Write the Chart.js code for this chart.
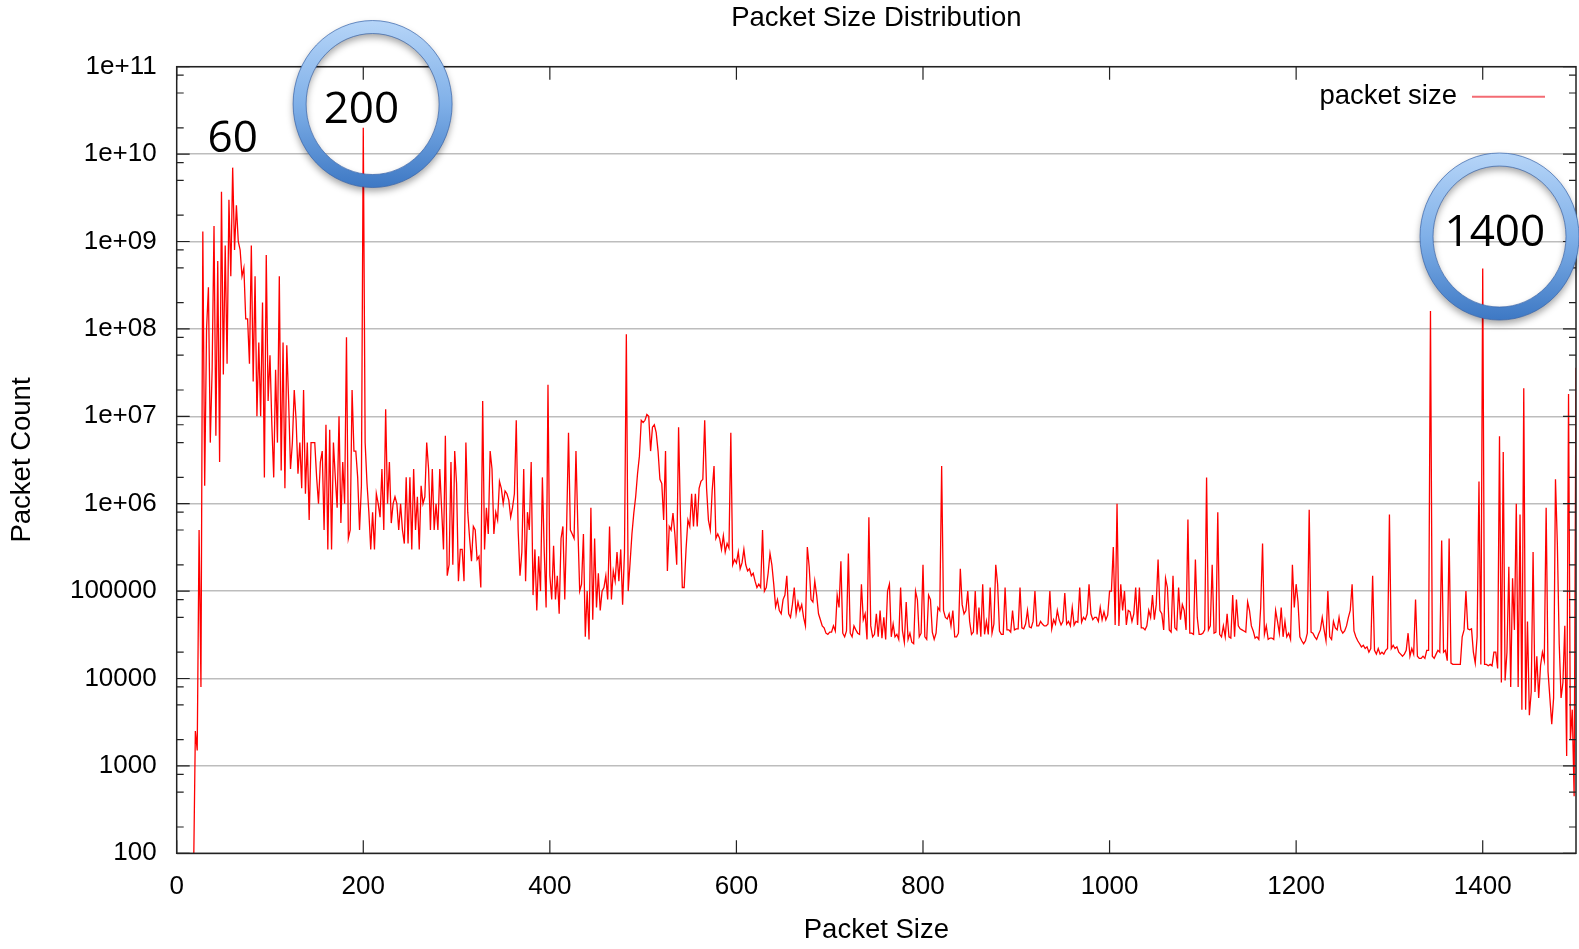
<!DOCTYPE html>
<html>
<head>
<meta charset="utf-8">
<title>Packet Size Distribution</title>
<script src="https://cdn.jsdelivr.net/npm/chart.js@4.4.1/dist/chart.umd.min.js"></script>
<style>
    html, body { margin: 0; padding: 0; background: #fff; }
    #chart { display: block; }
</style>
</head>
<body>
<canvas id="chart" width="1579" height="949"></canvas>
<script>
// one count every 2 bytes, each block starts at the size in segmentStarts
const segmentStarts = [18, 150, 286, 636, 842, 1048, 1260];
const sizeStep = 2;

const countsA = [
    50, 2500, 1500, 5e5, 8e3, 1.3e9, 1.6e6, 1e8, 3e8, 5e6,
    3.5e7, 1.5e9, 6e6, 6e8, 3e6, 3.7e9, 3e7, 9e8, 4e7, 3e9,
    4e8, 7e9, 8e8, 2.6e9, 1e9, 8e8, 4e8, 5e8, 1.3e8, 1.3e8,
    4e7, 9e8, 2.5e7, 4e8, 1e7, 7e7, 1e7, 2e8, 2e6, 7e8,
    1.5e7, 5e7, 8e6, 2e6, 3.4e7, 5e6, 4e8, 2.4e6, 7e7, 1.5e6,
    6.5e7, 1.5e7, 2.5e6, 5e6, 2e7, 9e6, 2.2e6, 5e6, 1.5e6, 2e7,
    1.3e6, 5e6, 6.5e5, 5e6, 5e6, 5e6
];
const countsB = [
    2e6, 1e6, 3e6, 4e6, 5e5, 8e6, 3e5, 7e6, 3e5,
    5e6, 2e6, 9e5, 1e7, 6e5, 3e6, 1e6, 8e7, 4e5, 5e5,
    2e7, 4e6, 4e6, 2e6, 5e5, 1.6e6, 2e10, 5e6, 1.7e6, 8e5,
    3e5, 8e5, 3e5, 1.3e6, 1e6, 7e5, 2.5e6, 5e5, 1.2e7, 1e6,
    3e6, 6e5, 1e6, 1.2e6, 1e6, 5e5, 1e6, 5e5, 3.5e5, 2e6,
    3.5e5, 2e6, 3e5, 2.5e6, 5e5, 1.2e6, 3e5, 1.6e6, 1e6, 1.2e6,
    5e6, 2.5e6, 5e5, 2.5e6, 5e5, 1e6, 5e5, 2.5e6
];
const countsC = [
    3e5, 6e6, 1.5e5, 2e5, 3e6, 2e5, 4e6, 1.7e6, 1.3e5, 3e5,
    3e5, 1.3e5, 5e6, 8e5, 4e5, 2.2e5, 5.5e5, 5e5, 2.3e5, 2.5e5,
    1.1e5, 1.5e7, 3e5, 9e5, 4.5e5, 4e6, 2.5e6, 4.5e5, 8e5, 6.5e5,
    1.8e6, 1.5e6, 1e6, 1.4e6, 1.3e6, 1.1e6, 7e5, 9e5, 1.3e6, 9e6,
    5e5, 1.5e5, 2.8e5, 2.5e6, 1.3e5, 8e5, 5e5, 3e6, 9e4, 3e5,
    6e4, 2.5e5, 1e5, 2e6, 2.8e5, 6.5e4, 2.3e7, 1.5e5, 8e4, 3.3e5,
    8e4, 1.5e5, 5.5e4, 4e5, 5.5e5, 8e4, 5.5e5, 6.5e6, 5e5, 4.5e5,
    4e5, 4e6, 5.5e5, 1e5, 1.2e5, 4.5e5, 3e4, 1e5, 2.8e4, 9e5,
    4.7e4, 4e5, 6.5e4, 1.6e5, 6e4, 1e5, 1.1e5, 1.5e5, 8e4, 5.5e5,
    8e4, 1.7e5, 1.3e5, 2.8e5, 1.3e5, 3e5, 7e4, 2.8e5, 8.7e7, 1e5,
    2.1e5, 4.5e5, 7.8e5, 1.2e6, 2.2e6, 3.5e6, 9e6, 8.5e6, 9e6, 1.05e7,
    1e7, 4e6, 7.5e6, 8e6, 6.5e6, 4e6, 1.9e6, 1.7e6, 6.5e5, 4e6,
    1.7e5, 5.5e5, 5e5, 7.8e5, 4.5e5, 2e5, 7.5e6, 7e5, 1.1e5, 1.1e5,
    3e5, 6.5e5, 5.5e5, 1.3e6, 5.5e5, 1.3e6, 5.5e5, 1.5e6, 1.8e6, 1.9e6,
    9e6, 1.5e6, 6.5e5, 5e5, 1.4e6, 2.7e6, 4e5, 4.5e5, 4e5, 3e5,
    4.3e5, 2.8e5, 3.5e5, 3.1e5, 6.5e6, 2e5, 2.3e5, 2.1e5, 2.8e5, 1.8e5,
    2.1e5, 3e5, 2e5, 1.7e5, 1.8e5, 1.5e5, 1.6e5, 1.3e5, 1.1e5, 1.2e5,
    1.1e5, 5e5, 1e5, 1.1e5, 1.6e5
];
const countsD = [
    2.7e5, 2e5, 1.2e5, 6.6e4, 8e4, 6e4, 5.5e4, 8e4, 9e4, 1.5e5,
    5.5e4, 5e4, 7e4, 1.1e5, 5.5e4, 7.5e4, 6e4, 7e4, 5e4, 4e4,
    3.2e5, 1.9e5, 8e4, 7.5e4, 1.3e5, 9e4, 5.5e4, 4.7e4, 4e4, 3.8e4,
    3.3e4, 3.2e4, 3.4e4, 3.4e4, 4e4, 3.5e4, 9e4, 6.5e4, 2.2e5, 3.3e4,
    3e4, 3.5e4, 2.7e5, 3.3e4, 3e4, 4e4, 3.6e4, 3.3e4, 3.2e4, 1.2e5,
    4.7e4, 5.5e4, 2.8e4, 7e5, 4e4, 3e4, 3.2e4, 5.5e4, 3e4, 6e4,
    2.9e4, 5e4, 2.8e4, 1e5, 1.2e5, 3e4, 4.2e4, 3e4, 3.2e4, 2.8e4,
    1.1e5, 3.5e4, 2.6e4, 7.5e4, 2.8e4, 3.3e4, 2.6e4, 2.5e4, 1e5, 8e4,
    3e4, 3.3e4, 2e5, 3e4, 2.8e4, 9e4, 8e4, 3.4e4, 2.8e4, 3.3e4,
    6.5e4, 6e4, 2.7e6, 6e4, 5e4, 4.8e4, 5.5e4, 4e4, 6e4, 3e4,
    3e4, 3.3e4, 1.8e5
];
const countsE = [
    7e4, 5.5e4, 6e4, 1e5, 4.5e4, 3.2e4, 3.4e4, 1e5, 3.2e4, 6.5e4,
    3e4, 1.2e5, 3.2e4, 4.5e4, 3.2e4, 1.1e5, 3.3e4, 4.2e4, 2e5, 1.2e5,
    3.5e4, 3.2e4, 3.2e4, 1.1e5, 3.6e4, 3.6e4, 3.4e4, 6e4, 3.6e4, 3.7e4,
    3.7e4, 1.1e5, 3.8e4, 3.7e4, 4.2e4, 6e4, 3.9e4, 3.8e4, 4.5e4, 1e5,
    4e4, 4e4, 4.5e4, 4.2e4, 4e4, 4e4, 4.2e4, 1e5, 3.7e4, 4.7e4,
    4.2e4, 6e4, 4.7e4, 4.1e4, 4.5e4, 9.5e4, 4.2e4, 4.5e4, 4e4, 6.5e4,
    4.1e4, 4.5e4, 4.4e4, 1.1e5, 4.4e4, 5e4, 4.7e4, 5.5e4, 1.2e5, 5.5e4,
    4.7e4, 5e4, 5e4, 4.5e4, 6.5e4, 4.7e4, 5.8e4, 4.7e4, 5.3e4, 1e5,
    1e5, 3.2e5, 4.1e4, 1e6, 4e4, 1.2e5, 6e4, 1e5, 4.1e4, 6e4,
    5.8e4, 4.5e4, 5.5e4, 1.1e5, 4.1e4, 1.1e5, 3.8e4, 3.8e4, 3.6e4, 4e4,
    6e4, 5e4, 9e4
];
const countsF = [
    4.7e4, 7e4, 2.3e5, 6e4, 5.5e4, 3.6e4, 1.4e5, 1.1e5, 3.6e4, 3.4e4,
    1.5e5, 3.8e4, 3.6e4, 1.1e5, 4.7e4, 7e4, 6e4, 3.6e4, 6.6e5, 3.3e4,
    3.3e4, 3.2e4, 2.3e5, 5e4, 3.2e4, 3.2e4, 3.3e4, 3.6e4, 2e6, 3.6e4,
    4e4, 2e5, 3.3e4, 3.4e4, 8e5, 3.2e4, 3e4, 4e4, 3e4, 5.5e4,
    3e4, 2.9e4, 9e4, 3e4, 8e4, 4e4, 3.7e4, 3.6e4, 3.5e4, 3.4e4,
    7.5e4, 6e4, 4e4, 3.5e4, 2.9e4, 3e4, 2.8e4, 6.5e4, 3.5e5, 3.2e4,
    4e4, 2.8e4, 2.9e4, 2.9e4, 2.8e4, 6e4, 4.5e4, 3.3e4, 6.5e4, 3e4,
    4.5e4, 3e4, 3.3e4, 2.8e4, 2e5, 6.5e4, 1.2e5, 7.5e4, 3e4, 2.7e4,
    2.5e4, 2.7e4, 3.3e4, 8.5e5, 3.4e4, 3.3e4, 3e4, 2.8e4, 3.2e4, 3.6e4,
    5e4, 3.6e4, 2.7e4, 1e5, 3e4, 2.8e4, 4.5e4, 3.8e4, 3.6e4, 5e4,
    3.6e4, 3.3e4, 3.5e4, 4e4, 5e4, 6e4
];
const countsG = [
    1.2e5, 3.5e4, 3e4, 2.7e4, 2.5e4, 2.3e4, 2.4e4, 2.2e4, 2.3e4, 2e4,
    2.2e4, 1.5e5, 2.1e4, 1.9e4, 2.2e4, 1.9e4, 2e4, 1.9e4, 2.1e4, 2.2e4,
    7.5e5, 2.2e4, 2.4e4, 2.2e4, 2.3e4, 2e4, 1.9e4, 1.8e4, 1.9e4, 2.1e4,
    3.3e4, 1.8e4, 2.2e4, 1.9e4, 8e4, 1.8e4, 1.7e4, 1.7e4, 1.8e4, 1.7e4,
    2.1e4, 2.1e4, 1.6e8, 1.8e4, 1.7e4, 1.9e4, 2.1e4, 2e4, 3.8e5, 2e4,
    2.1e4, 1.6e4, 4e5, 1.5e4, 1.45e4, 1.45e4, 1.45e4, 1.45e4, 1.45e4, 3e4,
    3.6e4, 1e5, 3.7e4, 3.6e4, 3.7e4, 2e4, 1.5e4, 3e4, 1.8e6, 1.45e4,
    4.9e8, 1.45e4, 1.45e4, 1.4e4, 1.45e4, 1.4e4, 2e4, 2e4, 1.3e4, 5.9e6,
    9e3, 3.9e6, 9.5e3, 2e4, 1.9e5, 8e3, 1.4e5, 3.6e4, 1e6, 8e3,
    7.5e5, 4.4e3, 2.1e7, 4.4e3, 4.5e4, 3.8e3, 7e3, 2.8e5, 7e3, 1.8e4,
    6e3, 1.4e4, 2e4, 1.6e4, 9e5, 1.2e4, 6e3, 3e3, 6e3, 1.9e6,
    3.5e5, 2.5e4, 6e3, 9e3, 4e4, 1.3e3, 1.8e7, 2e3, 4.4e3, 450,
    3.6e7
];
const countSegments = [countsA, countsB, countsC, countsD, countsE, countsF, countsG];

const xTickValues = [0, 200, 400, 600, 800, 1000, 1200, 1400];
const yTickValues = [1e2, 1e3, 1e4, 1e5, 1e6, 1e7, 1e8, 1e9, 1e10, 1e11];
const yTickLabels = ['100', '1000', '10000', '100000', '1e+06', '1e+07', '1e+08', '1e+09', '1e+10', '1e+11'];
const yMinorFactors = [2, 5, 8];

// hand drawn callouts laid over the plot
const calloutTexts = ['60', '200', '1400'];
const calloutSizes = [60, 198, 1413];
const calloutCounts = [1.6e10, 3.4e10, 1.35e9];
const ringSizes = [210, 1418];
const ringCounts = [3.74e10, 1.14e9];

const FONT = "'Liberation Sans', Arial, Helvetica, sans-serif";

function buildPoints() {
    const points = [];
    countSegments.forEach((counts, s) => {
        counts.forEach((c, i) => {
            points.push({ x: segmentStarts[s] + sizeStep * i, y: c });
        });
    });
    return points;
}

const framePlugin = {
    id: 'frame',
    afterDatasetsDraw(chart) {
        const { ctx, chartArea: a, scales: { x, y } } = chart;
        ctx.save();
        ctx.strokeStyle = '#222';
        ctx.lineWidth = 1.2;
        ctx.beginPath();
        yTickValues.forEach(v => {
            const py = y.getPixelForValue(v);
            ctx.moveTo(a.left, py); ctx.lineTo(a.left + 13, py);
            ctx.moveTo(a.right, py); ctx.lineTo(a.right - 13, py);
            if (v < 1e11) {
                yMinorFactors.forEach(m => {
                    const pm = y.getPixelForValue(v * m);
                    ctx.moveTo(a.left, pm); ctx.lineTo(a.left + 7, pm);
                    ctx.moveTo(a.right, pm); ctx.lineTo(a.right - 7, pm);
                });
            }
        });
        xTickValues.forEach(v => {
            const px = x.getPixelForValue(v);
            ctx.moveTo(px, a.bottom); ctx.lineTo(px, a.bottom - 13);
            ctx.moveTo(px, a.top); ctx.lineTo(px, a.top + 13);
        });
        ctx.stroke();
        ctx.lineWidth = 1.5;
        ctx.strokeRect(a.left, a.top, a.right - a.left, a.bottom - a.top);
        ctx.restore();
    }
};

const overlayPlugin = {
    id: 'overlay',
    afterDraw(chart) {
        const { ctx, chartArea: a, scales: { x, y } } = chart;
        ctx.save();

        // gnuplot style key: label first, sample line after it
        const ly = a.top + 30;
        ctx.font = '27.5px ' + FONT;
        ctx.fillStyle = '#000';
        ctx.textAlign = 'right';
        ctx.textBaseline = 'middle';
        ctx.fillText(chart.data.datasets[0].label, a.right - 119, ly);
        ctx.strokeStyle = 'rgba(240, 70, 80, 0.8)';
        ctx.lineWidth = 2;
        ctx.beginPath();
        ctx.moveTo(a.right - 104, ly);
        ctx.lineTo(a.right - 31, ly);
        ctx.stroke();

        ringSizes.forEach((s, i) => {
            const cx = x.getPixelForValue(s);
            const cy = y.getPixelForValue(ringCounts[i]);
            const g = ctx.createLinearGradient(0, cy - 84, 0, cy + 84);
            g.addColorStop(0, '#b6d5f8');
            g.addColorStop(0.5, '#80b0e8');
            g.addColorStop(1, '#3d78c4');
            ctx.save();
            ctx.shadowColor = 'rgba(0, 0, 0, 0.35)';
            ctx.shadowBlur = 7;
            ctx.shadowOffsetY = 4;
            ctx.beginPath();
            ctx.ellipse(cx, cy, 73, 77, 0, 0, Math.PI * 2);
            ctx.lineWidth = 13;
            ctx.strokeStyle = g;
            ctx.stroke();
            ctx.restore();
            ctx.lineWidth = 1;
            ctx.strokeStyle = 'rgba(55, 100, 170, 0.7)';
            ctx.beginPath();
            ctx.ellipse(cx, cy, 79.5, 83.5, 0, 0, Math.PI * 2);
            ctx.stroke();
            ctx.beginPath();
            ctx.ellipse(cx, cy, 66.5, 70.5, 0, 0, Math.PI * 2);
            ctx.stroke();
        });

        const size = 44;
        ctx.font = size + "px 'Open Sans', 'Noto Sans', sans-serif";
        ctx.fillStyle = '#000';
        ctx.textAlign = 'center';
        ctx.textBaseline = 'alphabetic';
        calloutTexts.forEach((t, i) => {
            const px = x.getPixelForValue(calloutSizes[i]);
            const py = y.getPixelForValue(calloutCounts[i]);
            ctx.fillText(t, px, py + size * 0.357);
        });
        ctx.restore();
    }
};

function drawChart() {
    const ctx = document.getElementById('chart').getContext('2d');
    new Chart(ctx, {
        type: 'line',
        data: {
            datasets: [{
                label: 'packet size',
                data: buildPoints(),
                borderColor: '#ff0000',
                borderWidth: 1.3,
                pointRadius: 0,
                tension: 0,
                fill: false
            }]
        },
        options: {
            responsive: false,
            animation: false,
            devicePixelRatio: 1,
            layout: { padding: { left: 0, right: 3, top: 0, bottom: 0 } },
            plugins: {
                legend: { display: false },
                tooltip: { enabled: false },
                title: {
                    display: true,
                    text: 'Packet Size Distribution',
                    fullSize: false,
                    color: '#000',
                    font: { family: FONT, size: 27.5, weight: 'normal' },
                    padding: { top: 1.6, bottom: 32.1 }
                }
            },
            scales: {
                x: {
                    type: 'linear',
                    min: 0,
                    max: 1500,
                    afterBuildTicks: s => { s.ticks = xTickValues.map(v => ({ value: v })); },
                    afterFit: s => { s.height = 95.7; },
                    grid: { display: false },
                    border: { display: false },
                    ticks: {
                        autoSkip: false,
                        maxRotation: 0,
                        padding: 10,
                        color: '#000',
                        font: { family: FONT, size: 26 },
                        callback: v => String(v)
                    },
                    title: {
                        display: true,
                        text: 'Packet Size',
                        color: '#000',
                        font: { family: FONT, size: 27.5 },
                        padding: { top: 0, bottom: 2 }
                    }
                },
                y: {
                    type: 'logarithmic',
                    min: 100,
                    max: 1e11,
                    afterBuildTicks: s => { s.ticks = yTickValues.map(v => ({ value: v })); },
                    afterFit: s => { s.width = 176.7; },
                    grid: { color: '#bdbdbd', lineWidth: 1.5, drawTicks: false },
                    border: { display: false },
                    ticks: {
                        autoSkip: false,
                        padding: 20,
                        color: '#000',
                        font: { family: FONT, size: 26 },
                        callback: v => yTickLabels[yTickValues.indexOf(v)]
                    },
                    title: {
                        display: true,
                        text: 'Packet Count',
                        color: '#000',
                        font: { family: FONT, size: 27.5 },
                        padding: { top: 5.7, bottom: 0 }
                    }
                }
            }
        },
        plugins: [framePlugin, overlayPlugin]
    });
}

drawChart();
</script>
</body>
</html>
